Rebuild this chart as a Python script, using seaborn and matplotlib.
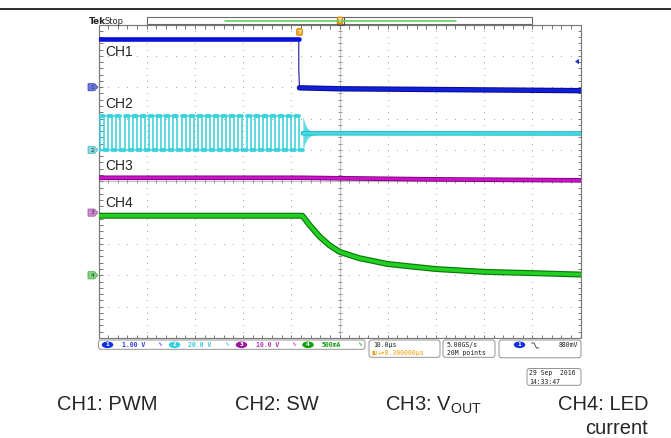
import numpy as np
import pandas as pd
import matplotlib
matplotlib.use("Agg")
import matplotlib.pyplot as plt
import seaborn as sns
from matplotlib.patches import Rectangle, FancyBboxPatch, Ellipse, Polygon

# ------------------------------------------------------------------ data
# time in microseconds (10 us/div, trigger at screen centre)
# CH1: PWM, 1.00 V/div, ground marker at +3 div
ch1_high_t = [-50.0, -8.45]
ch1_high_v = [1.54, 1.54]
ch1_edge_t = [-8.45, -8.45, -8.3]
ch1_edge_v = [1.54, 0.6, -0.02]
ch1_low_t = [-8.3, 0.0, 25.0, 50.0]
ch1_low_v = [-0.02, -0.05, -0.08, -0.11]

# CH2: SW node, 20.0 V/div, ground marker at +1 div
ch2_rise = [-49.65, -47.96, -46.28, -44.59, -42.90, -41.22, -39.53, -37.84,
            -36.15, -34.47, -32.78, -31.09, -29.41, -27.72, -26.03, -24.35,
            -22.66, -20.97, -19.28, -17.60, -15.91, -14.22, -12.54, -10.85,
            -9.16]
ch2_fall = [-48.81, -47.12, -45.44, -43.75, -42.06, -40.38, -38.69, -37.00,
            -35.31, -33.63, -31.94, -30.25, -28.57, -26.88, -25.19, -23.51,
            -21.82, -20.13, -18.44, -16.76, -15.07, -13.38, -11.70, -10.01,
            -8.32]
ch2_high = 21.4
ch2_low = 0.0
ch2_ring_t = [-7.6, -7.2, -6.6, -5.8, -4.6]
ch2_ring_up = [21.5, 17.0, 13.5, 11.9, 11.2]
ch2_ring_lo = [0.0, 4.0, 7.5, 9.2, 10.0]
ch2_settle_t = [-7.6, 0.0, 50.0]
ch2_settle_v = [10.6, 10.6, 10.5]

# CH3: VOUT, 10.0 V/div, ground marker at -1 div
ch3_t = [-50.0, -8.0, 0.0, 20.0, 50.0]
ch3_v = [11.1, 11.1, 10.95, 10.6, 10.3]

# CH4: LED current, 500 mA/div, ground marker at -3 div
ch4_t = [-50.0, -7.7, -6.2, -4.1, -2.1, 0.0, 4.0, 10.0, 20.0, 30.0, 40.0, 50.0]
ch4_ma = [950, 950, 800, 615, 480, 375, 275, 180, 100, 55, 35, 12]

ch_scale = [1.0, 20.0, 10.0, 500.0]
ch_ground = [3.0, 1.0, -1.0, -3.0]
ch_names = ["CH1", "CH2", "CH3", "CH4"]
captions = ["CH1: PWM", "CH2: SW", "CH3: V$_{\\mathrm{OUT}}$", "CH4: LED\ncurrent"]
readouts = ["1.00 V", "20.0 V", "10.0 V", "500mA"]

# ------------------------------------------------------------------ figure
W, H = 671, 438
sns.set_style("white")
plt.rcParams['font.family'] = ['Liberation Sans', 'DejaVu Sans']
plt.rcParams['mathtext.fontset'] = 'custom'
plt.rcParams['mathtext.rm'] = 'Liberation Sans'
plt.rcParams['mathtext.it'] = 'Liberation Sans:italic'

fig = plt.figure(figsize=(W / 100, H / 100), dpi=100)
L, R, T, B = 98.5, 580.5, 24.5, 338.0
ax = fig.add_axes([L / W, 1 - B / H, (R - L) / W, (B - T) / H])
ax.set_xlim(-50, 50)
ax.set_ylim(-5, 5)
ax.axis('off')

px = 0.72  # points per pixel

# graticule
gcol = '#a9a9a9'
mx = np.arange(-50, 50.01, 2.0)
my = np.arange(-5, 5.01, 0.2)
for gx in range(-40, 41, 10):
    if gx == 0:
        continue
    ax.plot(np.full_like(my, gx), my, ls='none', marker='s', ms=1.0 * px,
            mec='none', color=gcol, zorder=1)
for gy in range(-4, 5):
    if gy == 0:
        continue
    ax.plot(mx, np.full_like(mx, gy), ls='none', marker='s', ms=1.0 * px,
            mec='none', color=gcol, zorder=1)
# centre cross with ticks
ax.axvline(0, color='#c4c4c4', lw=1.2 * px, zorder=1)
ax.axhline(0, color='#c4c4c4', lw=1.2 * px, zorder=1)
ax.plot(np.zeros_like(my), my, ls='none', marker='_', ms=5 * px, mew=1 * px,
        color='#9a9a9a', zorder=1)
ax.plot(mx, np.zeros_like(mx), ls='none', marker='|', ms=5 * px, mew=1 * px,
        color='#9a9a9a', zorder=1)
# border with inward ticks
bcol = '#7a7a7a'
ax.plot([-50, 50, 50, -50, -50], [-5, -5, 5, 5, -5], color=bcol, lw=1.2 * px,
        clip_on=False, zorder=2)
for xe in (-50, 50):
    ax.plot(np.full_like(my, xe), my, ls='none', marker='_', ms=7 * px,
            mew=1 * px, color=bcol, zorder=2)
for ye in (-5, 5):
    ax.plot(mx, np.full_like(mx, ye), ls='none', marker='|', ms=7 * px,
            mew=1 * px, color=bcol, zorder=2)


def to_div(vals, ch):
    return [ch_ground[ch] + v / ch_scale[ch] for v in vals]


def draw(t, v, color, lw, z=4, units=None):
    df = pd.DataFrame({'t': t, 'y': v})
    if units is None:
        df['u'] = 0
    else:
        df['u'] = units
    sns.lineplot(data=df, x='t', y='y', units='u', estimator=None, sort=False,
                 color=color, lw=lw, ax=ax, legend=False, zorder=z)


# CH4 (green)
y4 = to_div(ch4_ma, 3)
draw(ch4_t, y4, '#0b7a0b', 6.0 * px, z=3)
draw(ch4_t, y4, '#22d022', 3.6 * px, z=3)

# CH3 (magenta)
y3 = to_div(ch3_v, 2)
draw(ch3_t, y3, '#6e006e', 4.6 * px, z=4)
draw(ch3_t, y3, '#cc10cc', 3.0 * px, z=4)

# CH2 (cyan) switching waveform built from the edge lists
wt, wv = [-50.0], [ch2_low]
for r, f in zip(ch2_rise, ch2_fall):
    wt += [r, r, f, f]
    wv += [ch2_low, ch2_high, ch2_high, ch2_low]
wt += [ch2_ring_t[0]]
wv += [ch2_low]
draw(wt, to_div(wv, 1), '#3ad2dc', 1.6 * px, z=5)
# plateaus (thicker noisy band)
pt, pv, pu = [], [], []
prev_f = -50.0
for i, (r, f) in enumerate(zip(ch2_rise, ch2_fall)):
    pt += [prev_f, r, r, f]
    pv += [ch2_low, ch2_low, ch2_high, ch2_high]
    pu += [2 * i, 2 * i, 2 * i + 1, 2 * i + 1]
    prev_f = f
pt += [prev_f, ch2_ring_t[0]]
pv += [ch2_low, ch2_low]
pu += [999, 999]
draw(pt, to_div(pv, 1), '#3ad2dc', 3.8 * px, z=5, units=pu)
ax.fill_between(ch2_ring_t, to_div(ch2_ring_lo, 1), to_div(ch2_ring_up, 1),
                color='#5fdce4', lw=0, zorder=5)
draw(ch2_settle_t, to_div(ch2_settle_v, 1), '#1fb7c2', 4.6 * px, z=5)
draw(ch2_settle_t, to_div(ch2_settle_v, 1), '#45d8e0', 3.0 * px, z=5)

# CH1 (blue)
draw(ch1_edge_t, to_div(ch1_edge_v, 0), '#2a2aa8', 1.2 * px, z=6)
draw(ch1_high_t, to_div(ch1_high_v, 0), '#0a10d8', 4.6 * px, z=6)
draw(ch1_low_t, to_div(ch1_low_v, 0), '#0a0a90', 5.4 * px, z=6)
draw(ch1_low_t, to_div(ch1_low_v, 0), '#1020d8', 3.4 * px, z=6)

# channel labels inside the screen
lab_y = [52, 104, 166.5, 203]
for name, yy in zip(ch_names, lab_y):
    ax.text(-48.7, 5 - (yy - T) / (B - T) * 10, name, fontsize=10,
            va='center', ha='left', zorder=8)

# ------------------------------------------------------------------ overlay (pixel coordinates)
ov = fig.add_axes([0, 0, 1, 1])
ov.set_xlim(0, W)
ov.set_ylim(H, 0)
ov.axis('off')
ov.patch.set_alpha(0)

# top rule
ov.plot([0, W], [9.3, 9.3], color='black', lw=1.6 * px)

# Tek Stop
ov.text(89, 21.5, 'Tek', fontsize=6.5, fontweight='bold', va='center', ha='left',
        family='DejaVu Sans')
ov.text(104.5, 21.5, 'Stop', fontsize=6, va='center', ha='left',
        family='DejaVu Sans')

# record bar
ov.add_patch(Rectangle((147, 17.3), 385, 7, fill=False, ec='#6a6a6a', lw=1.1 * px))
ov.plot([225, 456], [20.5, 20.5], color='#5ccc5c', lw=1.6 * px)
ov.add_patch(Rectangle((336.5, 16.8), 7, 8, fill=False, ec='#505050', lw=1.0 * px))


def tmark(x, y):
    ov.add_patch(FancyBboxPatch((x - 2.6, y - 3.2), 5.2, 6.4,
                                boxstyle='round,pad=0.3,rounding_size=1.5',
                                fc='#f2a01c', ec='#d08000', lw=0.5))
    ov.text(x, y + 0.3, 'T', fontsize=4.2, color='#fff4d0', ha='center',
            va='center', family='DejaVu Sans', fontweight='bold')


tmark(340, 20.5)
tmark(299.5, 32)

# ground markers at the left edge
mk_cols = ['#6f78dc', '#8ad8dc', '#cc8ccc', '#86d486']
mk_edge = ['#3040c0', '#40b8c0', '#a050a0', '#40a040']
for i in range(4):
    yy = 181.25 - ch_ground[i] * (B - T) / 10
    ov.add_patch(Polygon([(88, yy - 3.6), (94.5, yy - 3.6), (98, yy),
                          (94.5, yy + 3.6), (88, yy + 3.6)],
                         closed=True, fc=mk_cols[i], ec=mk_edge[i], lw=0.5))
    ov.text(92.3, yy + 0.2, str(i + 1), fontsize=4.2, ha='center', va='center',
            color='#303030', family='DejaVu Sans')

# trigger level arrow on the right
ov.add_patch(Polygon([(575, 61.5), (579, 58.8), (579, 64.2)], closed=True,
                     fc='#1830d0', ec='none'))

# ------------------------------------------------------------------ readouts
mono = 'DejaVu Sans Mono'
fs = 4.7


def rbox(x0, y0, x1, y1):
    ov.add_patch(FancyBboxPatch((x0, y0), x1 - x0, y1 - y0,
                                boxstyle='round,pad=0,rounding_size=2.5',
                                fill=False, ec='#8a8a8a', lw=0.9 * px))


rbox(98.5, 340, 365, 349.3)
rbox(369, 340, 440, 357.3)
rbox(443, 340, 495, 357.3)
rbox(499, 340, 581, 357.8)
rbox(527, 368.5, 581, 385.3)

oval_cols = ['#1030e0', '#30d0e0', '#9a1a9a', '#10a010']
text_cols = ['#2a3ce8', '#30c6d6', '#b030b0', '#109a10']
oval_x = [107.5, 174.5, 241.5, 308]
val_x = [121.5, 188.5, 255.5, 322]
bw_x = [160, 227, 294, 360]
for i in range(4):
    ov.add_patch(Ellipse((oval_x[i], 344.8), 11.5, 6.6, fc=oval_cols[i], ec='none'))
    ov.text(oval_x[i], 345, str(i + 1), fontsize=4.0, color='white',
            ha='center', va='center', family='DejaVu Sans', fontweight='bold')
    ov.text(val_x[i], 345, readouts[i], fontsize=fs, color=text_cols[i],
            ha='left', va='center', family=mono, fontweight='bold')
    ov.text(bw_x[i], 345, '\u223f', fontsize=4.2, color=text_cols[i],
            ha='center', va='center', family='DejaVu Sans')

ov.text(373, 345, '10.0\u00b5s', fontsize=fs, ha='left', va='center',
        family=mono, color='#202020')
ov.add_patch(FancyBboxPatch((372.5, 350.5), 4.2, 4.6,
                            boxstyle='round,pad=0,rounding_size=1',
                            fc='#f2a01c', ec='none'))
ov.text(374.6, 353, 'T', fontsize=3.4, color='white', ha='center', va='center',
        family='DejaVu Sans', fontweight='bold')
ov.text(377.5, 353, '+\u25be8.300000\u00b5s', fontsize=fs, ha='left', va='center',
        family=mono, color='#f0a000')
ov.text(447, 345, '5.00GS/s', fontsize=fs, ha='left', va='center',
        family=mono, color='#202020')
ov.text(447, 353, '20M points', fontsize=fs, ha='left', va='center',
        family=mono, color='#202020')

ov.add_patch(Ellipse((519.5, 344.8), 11.5, 6.6, fc=oval_cols[0], ec='none'))
ov.text(519.5, 345, '1', fontsize=4.0, color='white', ha='center', va='center',
        family='DejaVu Sans', fontweight='bold')
ov.plot([531.5, 534, 536.5, 539], [343, 343, 348, 348], color='#303030', lw=0.8 * px)
ov.text(578, 345, '880mV', fontsize=fs, ha='right', va='center', family=mono,
        color='#202020')

ov.text(529, 373, '29 Sep  2016', fontsize=fs, ha='left', va='center',
        family=mono, color='#202020')
ov.text(529, 381.5, '14:33:47', fontsize=fs, ha='left', va='center',
        family=mono, color='#202020')

# ------------------------------------------------------------------ captions
cap_x = [57, 235, 385, 648]
for i in range(3):
    ov.text(cap_x[i], 405, captions[i], fontsize=14.5, ha='left', va='center')
ov.text(cap_x[3], 405, 'CH4: LED', fontsize=14.5, ha='right', va='center')
ov.text(cap_x[3], 428, 'current', fontsize=14.5, ha='right', va='center')

fig.savefig('out.png', dpi=100)
